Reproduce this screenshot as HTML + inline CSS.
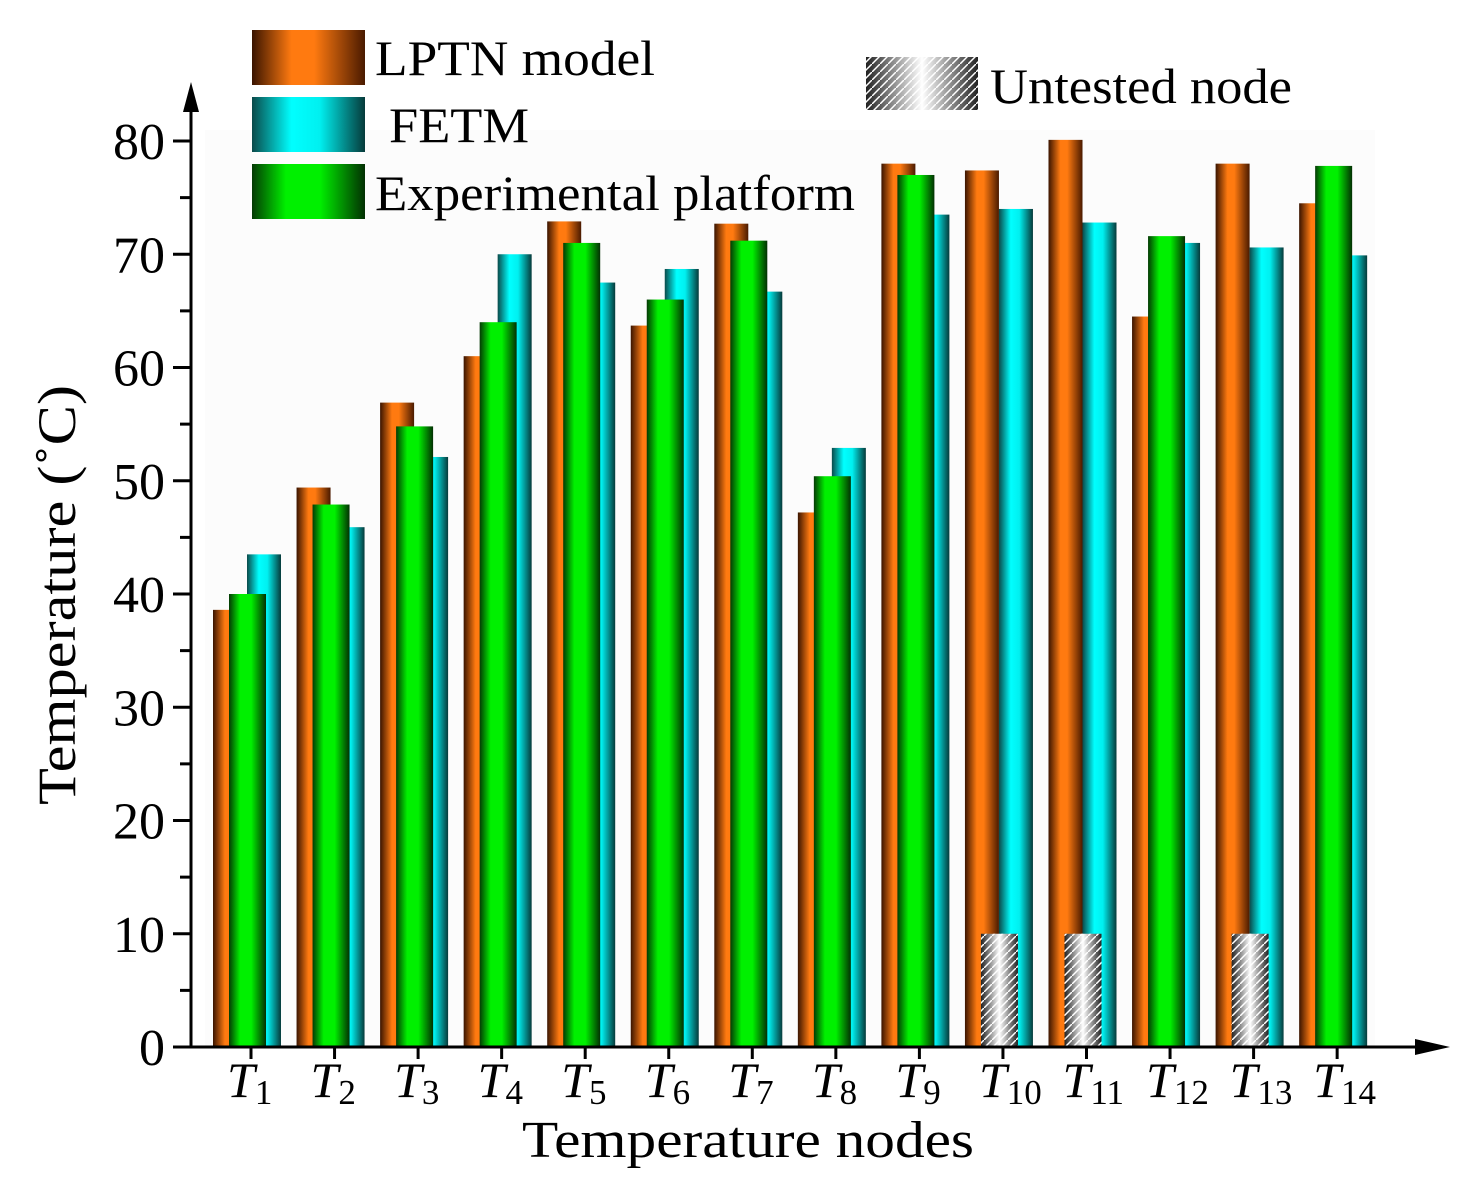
<!DOCTYPE html>
<html><head><meta charset="utf-8"><style>
body{margin:0;background:#fff}
svg text{font-family:"Liberation Serif",serif;fill:#000}
</style></head><body>
<svg id="chart" width="1473" height="1186" xmlns="http://www.w3.org/2000/svg">
<defs>
<linearGradient id="gO" x1="0" x2="1"><stop offset="0" stop-color="#3a1400"/><stop offset="0.35" stop-color="#ff7a10"/><stop offset="0.55" stop-color="#ff7a10"/><stop offset="1" stop-color="#4a1a00"/></linearGradient>
<linearGradient id="gC" x1="0" x2="1"><stop offset="0" stop-color="#0a4a4a"/><stop offset="0.35" stop-color="#00ffff"/><stop offset="0.6" stop-color="#00f0f0"/><stop offset="1" stop-color="#063a3a"/></linearGradient>
<linearGradient id="gG" x1="0" x2="1"><stop offset="0" stop-color="#043a04"/><stop offset="0.3" stop-color="#00f000"/><stop offset="0.6" stop-color="#00f000"/><stop offset="1" stop-color="#033003"/></linearGradient>
<linearGradient id="gW" x1="0" x2="1"><stop offset="0" stop-color="#222"/><stop offset="0.5" stop-color="#fff"/><stop offset="1" stop-color="#222"/></linearGradient>
<pattern id="hatch" width="8" height="8" patternUnits="userSpaceOnUse"><path d="M0,8 L8,0" stroke="#fff" stroke-width="1.5"/></pattern>
</defs>
<rect x="205" y="130" width="1170" height="917" fill="#fcfcfc"/>
<g id="bars"></g>
<g id="axes"></g>
<g>
<rect x="252" y="30" width="113" height="55" fill="url(#gO)"/>
<text x="375" y="75" font-size="50" textLength="280" lengthAdjust="spacingAndGlyphs">LPTN model</text>
<rect x="252" y="97" width="113" height="55" fill="url(#gC)"/>
<text x="389" y="142" font-size="50" textLength="140" lengthAdjust="spacingAndGlyphs">FETM</text>
<rect x="252" y="164" width="113" height="55" fill="url(#gG)"/>
<text x="375" y="210" font-size="50" textLength="480" lengthAdjust="spacingAndGlyphs">Experimental platform</text>
<rect x="866" y="57" width="112" height="53" fill="url(#gW)"/>
<rect x="866" y="57" width="112" height="53" fill="url(#hatch)"/>
<text x="990" y="103" font-size="50" textLength="302" lengthAdjust="spacingAndGlyphs">Untested node</text>
</g>
<text x="0" y="0" font-size="54" textLength="420" lengthAdjust="spacingAndGlyphs" transform="translate(75,595) rotate(-90)" text-anchor="middle">Temperature (˚C)</text>
<text x="748" y="1157" font-size="52" textLength="452" lengthAdjust="spacingAndGlyphs" text-anchor="middle">Temperature nodes</text>
</svg>
<script>
const categories=["1","2","3","4","5","6","7","8","9","10","11","12","13","14"];
const lptn=[38.6,49.4,56.9,61,72.9,63.7,72.7,47.2,78,77.4,80.1,64.5,78,74.5];
const fetm=[43.5,45.9,52.1,70,67.5,68.7,66.7,52.9,73.5,74,72.8,71,70.6,69.9];
const experimental=[40,47.9,54.8,64,71,66,71.2,50.4,77,null,null,71.6,null,77.8];
const untestedValue=10;
const yTicks=[0,10,20,30,40,50,60,70,80];
const NS="http://www.w3.org/2000/svg";
const y0=1047,pxPer=11.325;
function yS(v){return y0-v*pxPer;}
function xS(i){return 247+i*83.55;}
function mk(tag,attrs,parent){const e=document.createElementNS(NS,tag);for(const k in attrs)e.setAttribute(k,attrs[k]);parent.appendChild(e);return e;}
const bars=document.getElementById('bars'),axes=document.getElementById('axes');
categories.forEach((c,i)=>{
  const cx=xS(i);
  let r=mk('rect',{x:cx-34,y:yS(lptn[i]),width:34,height:lptn[i]*pxPer,fill:'url(#gO)'},bars);
  
  
  r=mk('rect',{x:cx,y:yS(fetm[i]),width:34,height:fetm[i]*pxPer,fill:'url(#gC)'},bars);
  
  
  if(experimental[i]!==null){
    r=mk('rect',{x:cx-18,y:yS(experimental[i]),width:37,height:experimental[i]*pxPer,fill:'url(#gG)'},bars);
    
    
  }else{
    r=mk('rect',{x:cx-18,y:yS(untestedValue),width:37,height:untestedValue*pxPer,fill:'url(#gW)'},bars);
    
    
    r=mk('rect',{x:cx-18,y:yS(untestedValue),width:37,height:untestedValue*pxPer,fill:'url(#hatch)'},bars);
    
    
  }
  const tk=mk('line',{x1:xS(i)+4,x2:xS(i)+4,y1:y0,y2:y0+12,stroke:'#000','stroke-width':3},axes);
  
  
  const t=mk('text',{x:xS(i)-20,y:1097,'font-size':50,'font-style':'italic'},axes);
  
  
  t.textContent='T';
  const s=mk('tspan',{'font-size':35,'font-style':'normal',dy:7},t);
  s.textContent=c;
});
let l=mk('line',{x1:191,x2:191,y1:y0,y2:100,stroke:'#000','stroke-width':3},axes);


l=mk('path',{d:'M191,82 L183,112 L199,112 Z',fill:'#000'},axes);


l=mk('line',{x1:175,x2:1420,y1:y0,y2:y0,stroke:'#000','stroke-width':3},axes);


l=mk('path',{d:'M1450,1047 L1415,1039 L1415,1055 Z',fill:'#000'},axes);


yTicks.forEach(v=>{
  const tk=mk('line',{x1:173,x2:191,y1:yS(v),y2:yS(v),stroke:'#000','stroke-width':3},axes);
  
  
  const t=mk('text',{x:165,y:yS(v)+18,'font-size':52,'text-anchor':'end'},axes);
  
  
  t.textContent=v;
  if(v<80){
    const m=mk('line',{x1:180,x2:191,y1:yS(v+5),y2:yS(v+5),stroke:'#000','stroke-width':3},axes);
    
    
  }
});
</script>
</body></html>
